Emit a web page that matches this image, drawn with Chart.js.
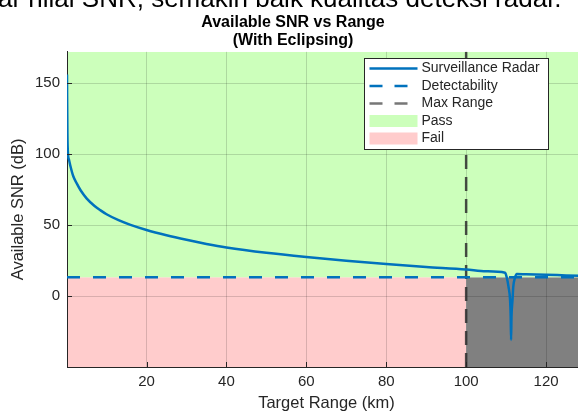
<!DOCTYPE html>
<html>
<head>
<meta charset="utf-8">
<script src="https://cdn.jsdelivr.net/npm/chart.js@4.4.0/dist/chart.umd.min.js"></script>
<style>
  html, body { margin: 0; padding: 0; background: #fff; }
  body { width: 578px; height: 411px; overflow: hidden; position: relative; }
  #wrap { position: absolute; left: 0; top: 0; width: 592px; height: 420px; }
  #caption {
    position: absolute; left: -2px; top: -17px; white-space: nowrap;
    font: 26px "Liberation Sans", Arial, sans-serif; line-height: 30px; color: #000;
  }
</style>
</head>
<body>
<div id="wrap"><canvas id="snrChart" width="592" height="420"></canvas></div>
<div id="caption">ar nilai SNR, semakin baik kualitas deteksi radar.</div>
<script>
// values
const rangeKm = [0.1, 0.13, 0.2, 0.35, 0.6, 1, 1.65, 2.5, 3.5, 5, 7, 8.5, 10, 13, 16, 20,
  25, 30, 35, 40, 50, 60, 70, 80, 90, 100, 105, 109.75, 110.2, 110.6, 111, 111.15,
  111.25, 111.35, 111.6, 111.8, 112.2, 112.7, 115, 120, 125, 130];
const snrDb = [156, 140, 115, 100, 96, 91, 84.5, 79.5, 74.5, 68.8, 63.4, 60.3, 57.6, 53.4, 50.1, 46.5,
  42.8, 39.6, 36.7, 34.2, 30.4, 27.4, 24.8, 22.5, 20.5, 18.7, 17.4, 16.4, 12.7, 6.6, -3, -15,
  -31, -15, -3, 6.6, 12.7, 15.5, 15.3, 15, 14.5, 14.1];
const detectabilityDb = 13.2;
const maxRangeKm = 100;
const xLimits = [0.1, 130];
const yLimits = [-50, 172];
const xTicks = [20, 40, 60, 80, 100, 120];
const yTicks = [0, 50, 100, 150];

const BLUE = "#0072BD";
const TEXT = "#262626";
const FONT = '"Liberation Sans", Arial, sans-serif';

const legendItems = [
  { label: 'Surveillance Radar', kind: 'line', color: BLUE, dash: [] },
  { label: 'Detectability', kind: 'line', color: BLUE, dash: [13, 12] },
  { label: 'Max Range', kind: 'line', color: '#777777', dash: [13, 12] },
  { label: 'Pass', kind: 'patch', color: 'rgb(204,255,187)' },
  { label: 'Fail', kind: 'patch', color: 'rgb(255,204,204)' }
];

const insideTicks = {
  id: 'insideTicks',
  afterDraw(chart) {
    const { ctx, chartArea: a, scales: { x, y } } = chart;
    ctx.save();
    ctx.strokeStyle = TEXT;
    ctx.lineWidth = 1;
    ctx.beginPath();
    xTicks.forEach(v => {
      const px = Math.round(x.getPixelForValue(v)) + 0.5;
      ctx.moveTo(px, a.bottom); ctx.lineTo(px, a.bottom - 5);
    });
    yTicks.forEach(v => {
      const py = Math.round(y.getPixelForValue(v)) + 0.5;
      ctx.moveTo(a.left, py); ctx.lineTo(a.left + 5, py);
    });
    ctx.stroke();
    ctx.restore();
  }
};

const boxLegend = {
  id: 'boxLegend',
  afterDraw(chart) {
    const ctx = chart.ctx;
    const left = 364.5, top = 58.5, w = 184, h = 91, row = 17.5;
    ctx.save();
    ctx.fillStyle = '#fff';
    ctx.fillRect(left, top, w, h);
    ctx.strokeStyle = TEXT;
    ctx.lineWidth = 1;
    ctx.strokeRect(left, top, w, h);
    ctx.font = '14px ' + FONT;
    ctx.textBaseline = 'middle';
    legendItems.forEach((it, i) => {
      const cy = top + 10 + i * row;
      if (it.kind === 'line') {
        ctx.strokeStyle = it.color;
        ctx.lineWidth = 2.5;
        ctx.setLineDash(it.dash);
        ctx.beginPath();
        ctx.moveTo(left + 5, cy); ctx.lineTo(left + 53, cy);
        ctx.stroke();
        ctx.setLineDash([]);
      } else {
        ctx.fillStyle = it.color;
        ctx.fillRect(left + 5, cy - 6, 48, 12);
      }
      ctx.fillStyle = TEXT;
      ctx.fillText(it.label, left + 57, cy);
    });
    ctx.restore();
  }
};

const ctx = document.getElementById('snrChart').getContext('2d');
new Chart(ctx, {
  type: 'line',
  data: {
    datasets: [
      {
        label: 'Surveillance Radar',
        data: rangeKm.map((r, i) => ({ x: r, y: snrDb[i] })),
        borderColor: BLUE,
        borderWidth: 2.5,
        pointRadius: 0,
        cubicInterpolationMode: 'monotone',
        fill: false,
        order: 1
      },
      {
        label: 'Detectability',
        data: [{ x: xLimits[0], y: detectabilityDb }, { x: xLimits[1], y: detectabilityDb }],
        borderColor: BLUE,
        borderWidth: 2.5,
        borderDash: [13, 13],
        pointRadius: 0,
        fill: false,
        order: 2
      },
      {
        label: 'Max Range',
        data: [{ x: maxRangeKm, y: yLimits[0] }, { x: maxRangeKm, y: yLimits[1] }],
        borderColor: 'rgba(45,45,45,0.85)',
        borderWidth: 2.5,
        borderDash: [14, 8],
        pointRadius: 0,
        fill: false,
        order: 3
      },
      {
        label: 'Pass',
        data: [{ x: xLimits[0], y: yLimits[1] }, { x: xLimits[1], y: yLimits[1] }],
        borderWidth: 0,
        borderColor: 'transparent',
        backgroundColor: 'rgb(204,255,187)',
        pointRadius: 0,
        fill: { value: detectabilityDb },
        order: 4
      },
      {
        label: 'Fail',
        data: [{ x: xLimits[0], y: yLimits[0] }, { x: maxRangeKm, y: yLimits[0] }],
        borderWidth: 0,
        borderColor: 'transparent',
        backgroundColor: 'rgb(255,204,204)',
        pointRadius: 0,
        fill: { value: detectabilityDb },
        order: 5
      },
      {
        label: 'Beyond Max Range',
        data: [{ x: maxRangeKm, y: yLimits[0] }, { x: xLimits[1], y: yLimits[0] }],
        borderWidth: 0,
        borderColor: 'transparent',
        backgroundColor: 'rgb(128,128,128)',
        pointRadius: 0,
        fill: { value: detectabilityDb },
        order: 6
      }
    ]
  },
  options: {
    responsive: false,
    animation: false,
    layout: { padding: { left: 0, right: 6, top: 0, bottom: 0 } },
    plugins: {
      legend: { display: false },
      tooltip: { enabled: false },
      filler: { drawTime: 'beforeDraw' },
      title: {
        display: true,
        text: ['Available SNR vs Range', '(With Eclipsing)'],
        color: '#000',
        font: { family: FONT, size: 16, weight: 'bold', lineHeight: 1.15 },
        padding: { top: 13, bottom: 2 }
      }
    },
    scales: {
      x: {
        type: 'linear',
        min: xLimits[0],
        max: xLimits[1],
        afterBuildTicks: s => { s.ticks = xTicks.map(v => ({ value: v })); },
        afterFit: s => { s.height = 53; },
        grid: { color: 'rgba(0,0,0,0.15)', drawTicks: false },
        border: { color: TEXT, width: 1 },
        ticks: { color: TEXT, padding: 6, maxRotation: 0, font: { family: FONT, size: 15 } },
        title: {
          display: true,
          text: 'Target Range (km)',
          color: TEXT,
          padding: { top: 7, bottom: 7 },
          font: { family: FONT, size: 16.5 }
        }
      },
      y: {
        type: 'linear',
        min: yLimits[0],
        max: yLimits[1],
        afterBuildTicks: s => { s.ticks = yTicks.map(v => ({ value: v })); },
        afterFit: s => { s.width = 67; },
        grid: { color: 'rgba(0,0,0,0.15)', drawTicks: false },
        border: { color: TEXT, width: 1 },
        ticks: { color: TEXT, padding: 7, font: { family: FONT, size: 15 } },
        title: {
          display: true,
          text: 'Available SNR (dB)',
          color: TEXT,
          padding: { top: 9, bottom: 9 },
          font: { family: FONT, size: 16.5 }
        }
      }
    }
  },
  plugins: [insideTicks, boxLegend]
});
</script>
</body>
</html>
